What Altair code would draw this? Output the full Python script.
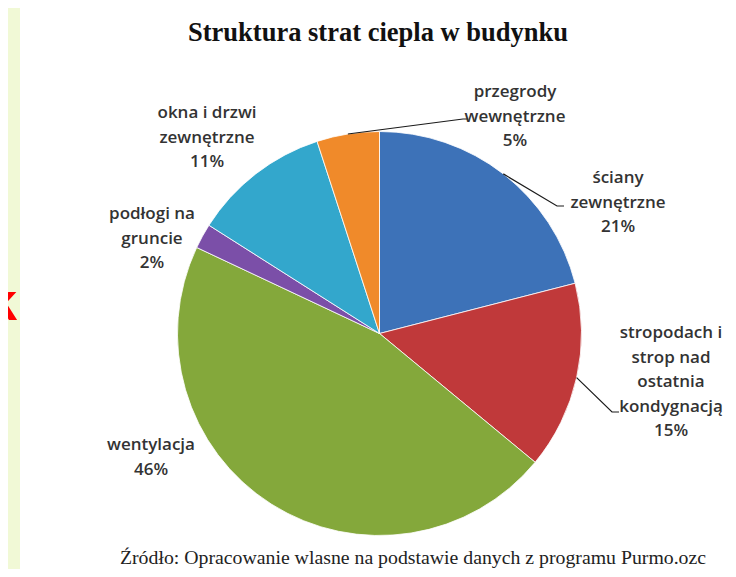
import math
import altair as alt
import pandas as pd

# ---- data ----
categories = ["ściany zewnętrzne", "stropodach i strop nad ostatnia kondygnacją", "wentylacja",
              "podłogi na gruncie", "okna i drzwi zewnętrzne", "przegrody wewnętrzne"]
values = [21, 15, 46, 2, 11, 5]
label_lines = [
    ["ściany", "zewnętrzne", "21%"],
    ["stropodach i", "strop nad", "ostatnia", "kondygnacją", "15%"],
    ["wentylacja", "46%"],
    ["podłogi na", "gruncie", "2%"],
    ["okna i drzwi", "zewnętrzne", "11%"],
    ["przegrody", "wewnętrzne", "5%"],
]
colors = ["#3d72b8", "#c0393a", "#84a83b", "#7b4fa8", "#33a7cc", "#f08a2a"]

title_text = "Struktura strat ciepla w budynku"
source_text = "Źródło: Opracowanie wlasne na podstawie danych  z programu Purmo.ozc"

# ---- layout (plot-pixel coordinates) ----
W, H = 720, 561
CX, CY, R = 371.5, 325.5, 202
label_pos = [(610, 170), (663, 325), (143, 437), (144, 206), (199, 105), (507, 84)]
# leader line elbows (None = no leader line)
leader_elbow = [(549, 198, 556), (604, 404, 611), None, None, None, (455, 111, 460)]

pie_df = pd.DataFrame({"cat": categories, "value": values, "idx": list(range(len(values)))})

lab_df = pd.DataFrame({
    "cat": categories,
    "text": label_lines,
    "lx": [p[0] for p in label_pos],
    "ly": [p[1] for p in label_pos],
})

total = sum(values)
rows = []
cum = 0
for i, v in enumerate(values):
    mid = (cum + v / 2) / total * 2 * math.pi
    cum += v
    if leader_elbow[i] is None:
        continue
    sx = CX + R * math.sin(mid)
    sy = CY - R * math.cos(mid)
    ex, ey, tx = leader_elbow[i]
    rows += [
        {"cat": categories[i], "o": 0, "x": sx, "y": sy},
        {"cat": categories[i], "o": 1, "x": ex, "y": ey},
        {"cat": categories[i], "o": 2, "x": tx, "y": ey},
    ]
line_df = pd.DataFrame(rows)

one = pd.DataFrame({"a": [0]})

panel = alt.Chart(one).mark_rect(color="#ffffff").encode(
    x=alt.value(12), x2=alt.value(740), y=alt.value(-10), y2=alt.value(580)
)

red_k = alt.Chart(one).mark_text(
    text="k", font="Liberation Sans", fontWeight="bold", fontSize=54, color="#ff0000",
    align="right", baseline="alphabetic"
).encode(x=alt.value(9), y=alt.value(312))

pie = alt.Chart(pie_df).mark_arc(radius=R, stroke="#ffffff", strokeWidth=0.8).encode(
    theta=alt.Theta("value:Q", stack=True),
    color=alt.Color("cat:N", scale=alt.Scale(domain=categories, range=colors), legend=None),
    order=alt.Order("idx:Q"),
    x=alt.value(CX), y=alt.value(CY),
)

leaders = alt.Chart(line_df).mark_line(color="#1a1a1a", strokeWidth=1.2).encode(
    x=alt.X("x:Q", scale=None, axis=None),
    y=alt.Y("y:Q", scale=None, axis=None),
    detail="cat:N",
    order="o:Q",
)

labels = alt.Chart(lab_df).mark_text(
    font="Open Sans", fontSize=17, fontWeight=600, color="#333333",
    align="center", baseline="middle", lineHeight=24.5
).encode(
    x=alt.X("lx:Q", scale=None, axis=None),
    y=alt.Y("ly:Q", scale=None, axis=None),
    text="text",
)

title = alt.Chart(one).mark_text(
    text=title_text, font="Liberation Serif", fontWeight="bold", fontSize=26.5, color="#111111",
    align="center", baseline="middle"
).encode(x=alt.value(370), y=alt.value(25))

source = alt.Chart(one).mark_text(
    text=source_text, font="Liberation Serif", fontSize=19.8, color="#222222",
    align="center", baseline="middle"
).encode(x=alt.value(405), y=alt.value(550))

chart = alt.layer(panel, red_k, pie, leaders, labels, title, source).properties(
    width=W, height=H, background="#f1f9d6", padding=0,
    autosize=alt.AutoSizeParams(type="none"),
).configure_view(stroke=None)

chart.save("out.html", embed_options={"renderer": "svg", "actions": False})
